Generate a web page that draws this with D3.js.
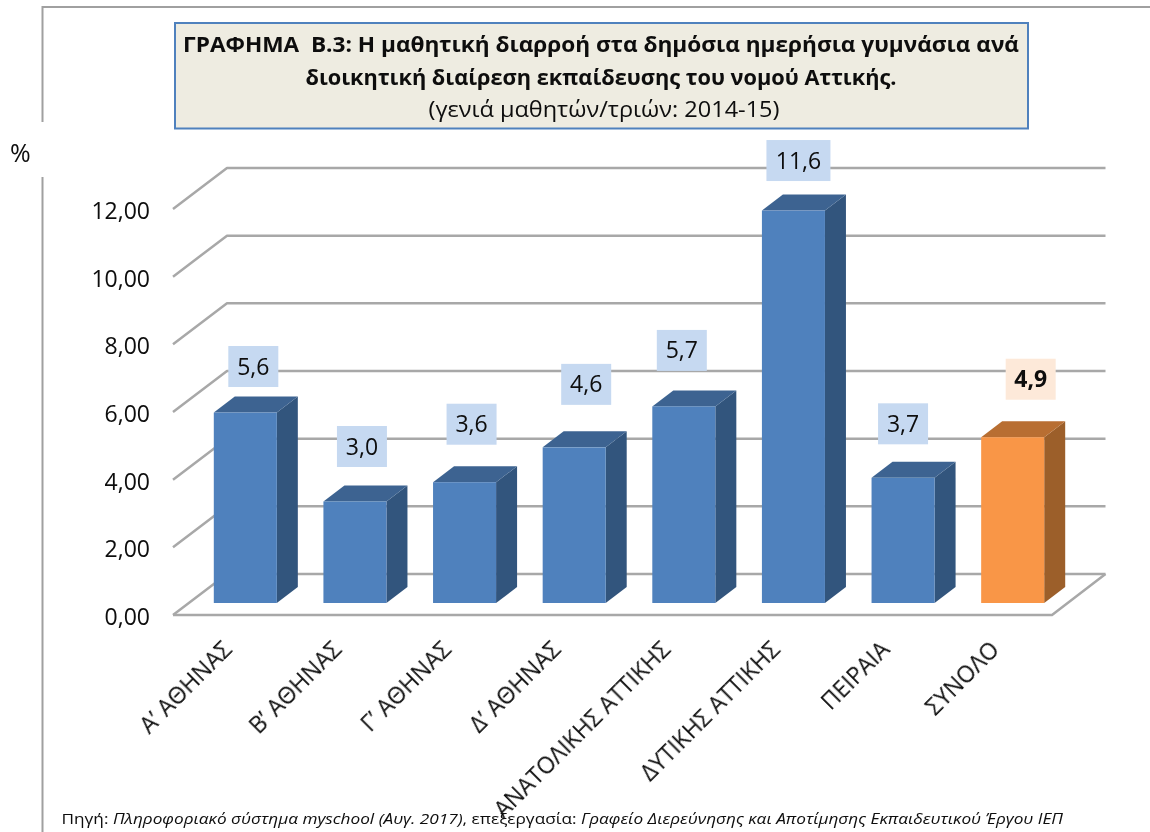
<!DOCTYPE html>
<html>
<head>
<meta charset="UTF-8">
<script src="https://cdnjs.cloudflare.com/ajax/libs/d3/7.8.5/d3.min.js"></script>
<style>
    html, body { margin: 0; padding: 0; background: #fff; }
    svg { display: block; }
    text { font-family: "Open Sans", "Noto Sans", sans-serif; fill: #0a0a0a; }
    .grid { fill: none; stroke: #a8a8a8; stroke-width: 2.5; stroke-linejoin: round; }
</style>
</head>
<body>
<div id="chart"></div>
<script>
// data
var categories = ["Α’ ΑΘΗΝΑΣ", "Β’ ΑΘΗΝΑΣ", "Γ’ ΑΘΗΝΑΣ", "Δ’ ΑΘΗΝΑΣ", "ΑΝΑΤΟΛΙΚΗΣ ΑΤΤΙΚΗΣ", "ΔΥΤΙΚΗΣ ΑΤΤΙΚΗΣ", "ΠΕΙΡΑΙΑ", "ΣΥΝΟΛΟ"];
var barHeights = [5.63, 3.0, 3.57, 4.6, 5.81, 11.6, 3.7, 4.9];
var valueLabels = ["5,6", "3,0", "3,6", "4,6", "5,7", "11,6", "3,7", "4,9"];
var yTicks = [0, 2, 4, 6, 8, 10, 12];
var totalCategory = "ΣΥΝΟΛΟ";

// the value boxes were placed by hand in the original, offsets from the bar's front top centre
var labelDx = [8, 7, 7, 12, -2, 5, 0, 18];
var labelDy = [-46, -55, -58, -63, -56, -50, -54, -58];

var width = 1150, height = 832;

// floor and wall depth, then the smaller depth of the bars
var wallDx = 54, wallDy = -41;
var barDx = 21, barDy = -16;
var barShiftY = -12;

var x = d3.scaleBand().domain(categories).range([190.5, 1067.5]).paddingInner(0.425).paddingOuter(0.2125);
var y = d3.scaleLinear().domain([0, 12]).range([615, 209]);

var svg = d3.select("#chart").append("svg")
    .attr("width", width)
    .attr("height", height);

var defs = svg.append("defs");
defs.append("filter").attr("id", "soft").append("feGaussianBlur").attr("stdDeviation", 0.7);
defs.append("filter").attr("id", "softer").append("feGaussianBlur").attr("stdDeviation", 0.3);

// frame of the pasted picture, broken where the % sits
svg.append("path")
    .attr("d", "M42.5,122V7H1150M42.5,177V832")
    .attr("fill", "none")
    .attr("stroke", "#a0a0a0")
    .attr("stroke-width", 2);

// gridlines: front-left diagonal and back line for each tick
var left = 173, right = 1052;
var line = d3.line();
var grid = svg.append("g").attr("filter", "url(#soft)");
grid.selectAll("path.grid")
    .data(yTicks)
    .join("path")
    .attr("class", "grid")
    .attr("d", function (d) {
        return line([[left, y(d)], [left + wallDx, y(d) + wallDy], [right + wallDx - 0.5, y(d) + wallDy]]);
    });
// floor front and right edge
grid.append("path")
    .attr("class", "grid")
    .attr("d", line([[left, y(0)], [right, y(0)], [right + wallDx - 0.5, y(0) + wallDy]]));

// bars, each one is side + top + front
var bars = svg.append("g").attr("filter", "url(#softer)")
    .selectAll("g")
    .data(categories)
    .join("g");

function barTop(i) { return y(barHeights[i]) + barShiftY; }
var base = y(0) + barShiftY;

bars.append("path")
    .attr("fill", function (d) { return d === totalCategory ? "#9c5f2c" : "#32547d"; })
    .attr("d", function (d, i) {
        var r = x(d) + x.bandwidth();
        return line([[r, barTop(i)], [r + barDx, barTop(i) + barDy], [r + barDx, base + barDy], [r, base]]) + "Z";
    });
bars.append("path")
    .attr("fill", function (d) { return d === totalCategory ? "#b86e30" : "#3d6491"; })
    .attr("d", function (d, i) {
        var l = x(d), r = l + x.bandwidth();
        return line([[l, barTop(i)], [l + barDx, barTop(i) + barDy], [r + barDx, barTop(i) + barDy], [r, barTop(i)]]) + "Z";
    });
bars.append("rect")
    .attr("x", function (d) { return x(d); })
    .attr("y", function (d, i) { return barTop(i); })
    .attr("width", x.bandwidth())
    .attr("height", function (d, i) { return base - barTop(i); })
    .attr("fill", function (d) { return d === totalCategory ? "#f99647" : "#4f81bd"; });

// value boxes
var boxes = svg.append("g")
    .selectAll("g")
    .data(categories)
    .join("g")
    .attr("transform", function (d, i) {
        return "translate(" + (x(d) + x.bandwidth() / 2 + labelDx[i]) + "," + (barTop(i) + labelDy[i]) + ")";
    });
boxes.append("rect")
    .attr("x", function (d, i) { return valueLabels[i].length > 3 ? -32 : -25; })
    .attr("y", -20.5)
    .attr("width", function (d, i) { return valueLabels[i].length > 3 ? 64 : 50; })
    .attr("height", 41)
    .attr("fill", function (d) { return d === totalCategory ? "#fde9d9" : "#c6d9f1"; });
boxes.append("text")
    .attr("text-anchor", "middle")
    .attr("y", 8)
    .attr("font-size", 23)
    .attr("font-weight", function (d) { return d === totalCategory ? "bold" : "normal"; })
    .text(function (d, i) { return valueLabels[i]; });

// y axis
var yAxis = d3.axisLeft(y)
    .tickValues(yTicks)
    .tickSize(0)
    .tickPadding(0)
    .tickFormat(function (d) { return d3.format(".2f")(d).replace(".", ","); });
var yG = svg.append("g").attr("transform", "translate(150,2)").call(yAxis);
yG.select(".domain").remove();
yG.selectAll("text").attr("font-size", 23);
yG.attr("font-family", null);

// x axis, labels turned 45 degrees
var xAxis = d3.axisBottom(x).tickSize(0);
var xG = svg.append("g").attr("transform", "translate(0,640)").call(xAxis);
xG.select(".domain").remove();
xG.attr("font-family", null);
xG.selectAll("text")
    .attr("font-size", 23)
    .attr("text-anchor", "end")
    .attr("x", 0)
    .attr("y", 0)
    .attr("dy", null)
    .attr("transform", "translate(-12,11) rotate(-45)");

// title box
svg.append("rect")
    .attr("x", 175).attr("y", 23)
    .attr("width", 853).attr("height", 105.5)
    .attr("fill", "#eeece1")
    .attr("stroke", "#4f81bd")
    .attr("stroke-width", 2);

var title = svg.append("g").attr("text-anchor", "middle");
title.append("text").attr("x", 601).attr("y", 52)
    .attr("font-size", 21.5).attr("font-weight", "bold")
    .attr("textLength", 836).attr("lengthAdjust", "spacingAndGlyphs")
    .attr("xml:space", "preserve")
    .text("ΓΡΑΦΗΜΑ  Β.3: Η μαθητική διαρροή στα δημόσια ημερήσια γυμνάσια ανά");
title.append("text").attr("x", 601).attr("y", 85)
    .attr("font-size", 21.5).attr("font-weight", "bold")
    .attr("textLength", 591).attr("lengthAdjust", "spacingAndGlyphs")
    .text("διοικητική διαίρεση εκπαίδευσης του νομού Αττικής.");
title.append("text").attr("x", 604).attr("y", 117)
    .attr("font-size", 21.5)
    .attr("textLength", 351).attr("lengthAdjust", "spacingAndGlyphs")
    .text("(γενιά μαθητών/τριών: 2014-15)");

svg.append("text").attr("x", 10).attr("y", 162).attr("font-size", 25).text("%");

// source line
var source = svg.append("text").attr("x", 61.5).attr("y", 824).attr("font-size", 14.5)
    .attr("textLength", 1001.5).attr("lengthAdjust", "spacingAndGlyphs");
source.append("tspan").text("Πηγή: ");
source.append("tspan").attr("font-style", "italic").text("Πληροφοριακό σύστημα myschool (Αυγ. 2017)");
source.append("tspan").text(", επεξεργασία: ");
source.append("tspan").attr("font-style", "italic").text("Γραφείο Διερεύνησης και Αποτίμησης Εκπαιδευτικού Έργου ΙΕΠ");

// the reference is a slightly soft screenshot
svg.selectAll("text").attr("filter", "url(#softer)");
</script>
</body>
</html>
